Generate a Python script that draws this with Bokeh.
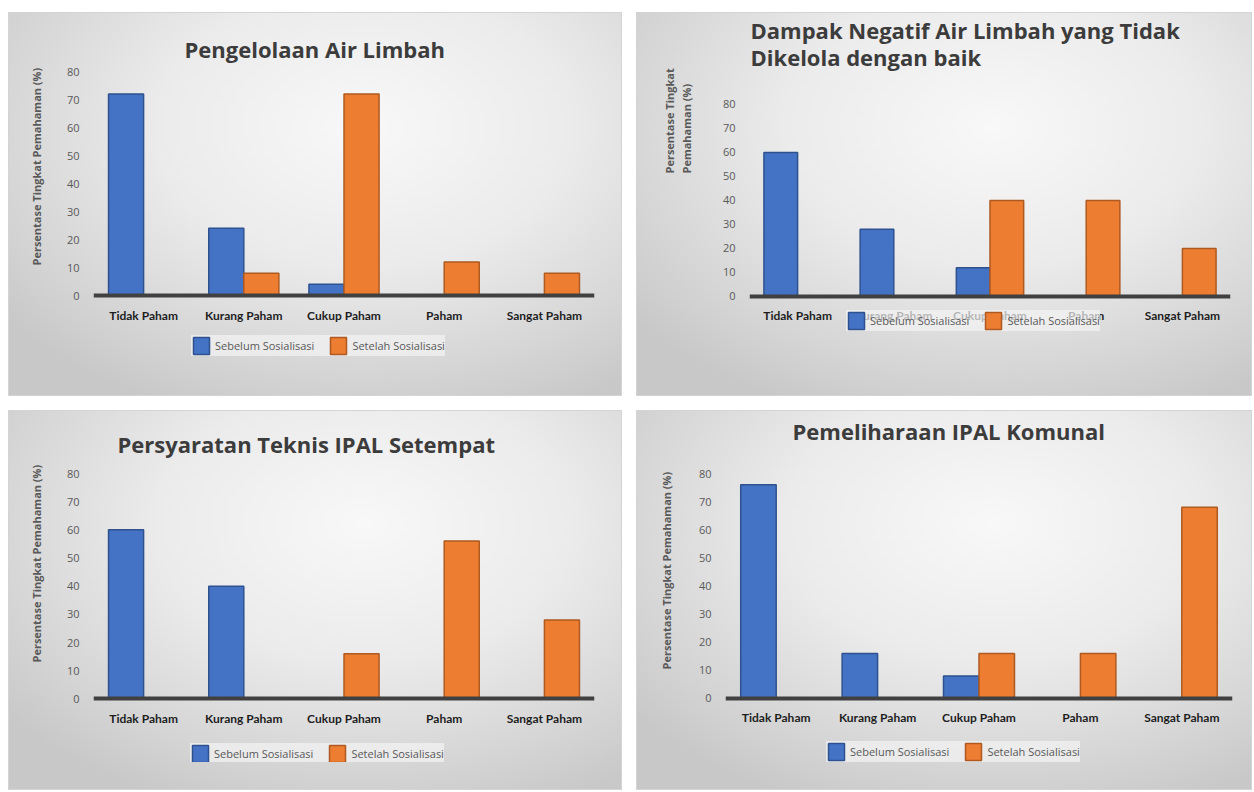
from bokeh.plotting import figure
from bokeh.models import (ColumnDataSource, FactorRange, Range1d, FixedTicker, Title,
                          Legend, LegendItem)
from bokeh.layouts import column, row
from bokeh.transform import dodge
from bokeh.embed import file_html
from bokeh.resources import INLINE

# ---------------- data ----------------
categories = ["Tidak Paham", "Kurang Paham", "Cukup Paham", "Paham", "Sangat Paham"]
series_names = ["Sebelum Sosialisasi", "Setelah Sosialisasi"]
y_ticks = [0, 10, 20, 30, 40, 50, 60, 70, 80]
y_title = "Persentase Tingkat Pemahaman (%)"
y_title_2 = "Persentase Tingkat\nPemahaman (%)"

title_1 = "Pengelolaan Air Limbah"
sebelum_1 = [72, 24, 4, 0, 0]
setelah_1 = [0, 8, 72, 12, 8]

title_2 = "Dampak Negatif Air Limbah yang Tidak\nDikelola dengan baik"
sebelum_2 = [60, 28, 12, 0, 0]
setelah_2 = [0, 0, 40, 40, 20]

title_3 = "Persyaratan Teknis IPAL Setempat"
sebelum_3 = [60, 40, 0, 0, 0]
setelah_3 = [0, 0, 16, 56, 28]

title_4 = "Pemeliharaan IPAL Komunal"
sebelum_4 = [76, 16, 8, 0, 0]
setelah_4 = [0, 0, 16, 16, 68]

# ---------------- style ----------------
BLUE, BLUE_LINE = "#4472C4", "#2F528F"
ORANGE, ORANGE_LINE = "#ED7D31", "#AE5A21"
TXT = "#595959"
BG = "radial-gradient(ellipse 75% 80% at 58% 30%, #f8f8f8 0%, #ebebeb 45%, #d2d2d2 85%, #c8c8c8 100%)"


def make_panel(title, before, after, w, h, fl, fr, ft, fb, y_start, y_end,
               t_offset, t_spacer, t_lh, yt_text, yt_offset, yt_standoff, legend_loc):
    src = ColumnDataSource(dict(cat=categories, before=before, after=after))
    p = figure(x_range=FactorRange(*categories, range_padding=0, factor_padding=0),
               y_range=Range1d(y_start, y_end), width=w, height=h,
               min_border_left=fl, min_border_right=fr, min_border_top=ft, min_border_bottom=fb,
               toolbar_location=None, output_backend="svg")
    p.border_fill_alpha = 0
    p.background_fill_alpha = 0
    p.outline_line_alpha = 0
    p.styles = {"background": BG, "box-shadow": "inset 0 0 0 1px #d4d4d4"}
    p.xgrid.visible = False
    p.ygrid.visible = False

    r1 = p.vbar(x=dodge("cat", -0.175, range=p.x_range), top="before", bottom=0, width=0.35,
                source=src, fill_color=BLUE, line_color=BLUE_LINE, line_width=1.5)
    r2 = p.vbar(x=dodge("cat", 0.175, range=p.x_range), top="after", bottom=0, width=0.35,
                source=src, fill_color=ORANGE, line_color=ORANGE_LINE, line_width=1.5)

    xa = p.xaxis[0]
    xa.fixed_location = 0
    xa.axis_line_color = "#404040"
    xa.axis_line_width = 4
    xa.major_tick_line_alpha = 0
    xa.minor_tick_line_alpha = 0
    xa.major_tick_out = 0
    xa.major_tick_in = 0
    xa.major_label_text_font = "Lato"
    xa.major_label_text_font_style = "bold"
    xa.major_label_text_font_size = "12px"
    xa.major_label_text_color = "#1e1e1e"
    xa.major_label_standoff = 12

    ya = p.yaxis[0]
    ya.ticker = FixedTicker(ticks=y_ticks)
    ya.axis_line_alpha = 0
    ya.major_tick_line_alpha = 0
    ya.minor_tick_line_alpha = 0
    ya.major_tick_out = 0
    ya.major_tick_in = 0
    ya.minor_tick_out = 0
    ya.major_label_text_font = "Open Sans"
    ya.major_label_text_font_size = "11px"
    ya.major_label_text_color = TXT
    ya.major_label_standoff = 14

    # optional spacer between frame and title, then the title itself
    if t_spacer is not None:
        p.add_layout(Title(text=" ", text_font_size="1px", standoff=t_spacer), "above")
    p.add_layout(Title(text=title, align="left", offset=t_offset, standoff=0,
                       vertical_align="bottom", text_font="Open Sans", text_font_style="bold",
                       text_font_size="22px", text_color="#3c3c3c", text_line_height=t_lh),
                 "above")

    # y axis title
    p.add_layout(Title(text=yt_text, align="left", offset=yt_offset, standoff=yt_standoff,
                       vertical_align="middle", text_font="Open Sans", text_font_style="bold",
                       text_font_size="11px", text_color=TXT, text_line_height=1.15),
                 "left")

    legend = Legend(items=[LegendItem(label=series_names[0], renderers=[r1]),
                           LegendItem(label=series_names[1], renderers=[r2])],
                    orientation="horizontal", location=legend_loc,
                    glyph_width=20, glyph_height=21, label_height=14,
                    label_standoff=4, spacing=14, padding=0, margin=0,
                    label_text_font="Open Sans", label_text_font_size="11px",
                    label_text_color=TXT,
                    background_fill_color="#f3f3f3", background_fill_alpha=0.7,
                    border_line_alpha=0)
    p.add_layout(legend)
    return p


# top row: frames share top (71) and bottom (360) edges
p1 = make_panel(title_1, sebelum_1, setelah_1, 614, 384, 82, 28, 59, 36, -23.2, 80,
                91, 5, 1.0, y_title, 95, 38, (98, 4))
p2 = make_panel(title_2, sebelum_2, setelah_2, 616, 384, 110, 22, 59, 36, -26.67, 93.75,
                1, None, 0.9, y_title_2, 187, 49, (97, 29))
# bottom row
p3 = make_panel(title_3, sebelum_3, setelah_3, 614, 380, 82, 28, 62, 28, -22.6, 80,
                24, 12, 1.0, y_title, 100, 38, (97, -2))
p4 = make_panel(title_4, sebelum_4, setelah_4, 616, 380, 86, 20, 63, 28, -22.8, 80,
                67, 25, 1.0, y_title, 93, 42, (101, 0))

layout = column(row(p1, p2, spacing=14), row(p3, p4, spacing=14), spacing=14)
layout.margin = (12, 0, 0, 8)

open("out.html", "w").write(file_html(layout, INLINE))
